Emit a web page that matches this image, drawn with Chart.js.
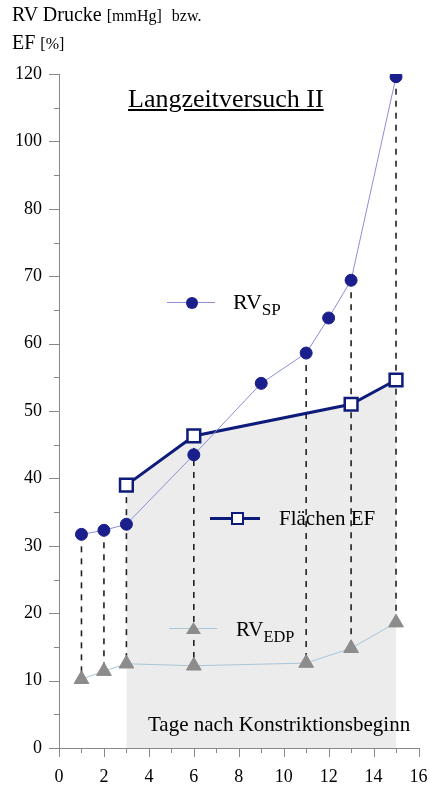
<!DOCTYPE html>
<html><head><meta charset="utf-8">
<script src="https://cdn.jsdelivr.net/npm/chart.js@4"></script>
<style>
body{margin:0;background:#fff;}
#wrap{position:relative;width:430px;height:787px;font-family:"Liberation Serif","Times New Roman",serif;color:#000;}
.t{position:absolute;white-space:nowrap;line-height:1;}
.sm{font-size:16px;}
sub{font-size:0.78em;vertical-align:-0.35em;}
.ln{position:absolute;height:0;}
</style></head>
<body><div id="wrap">
<canvas id="c" width="430" height="787"></canvas>
<div class="t" style="left:12px;top:4px;font-size:20px;">RV Drucke <span class="sm">[mmHg]</span>&nbsp; <span class="sm">bzw.</span></div>
<div class="t" style="left:12px;top:32px;font-size:20px;">EF <span class="sm">[%]</span></div>
<div class="t" style="left:128px;top:86px;font-size:26px;text-decoration:underline;">Langzeitversuch II</div>
<div class="ln" style="left:167px;top:302px;width:48px;border-top:1px solid #8e8ed8;"></div>
<div style="position:absolute;left:186px;top:297px;width:12px;height:12px;border-radius:50%;background:#1a1f8c;"></div>
<div class="t" style="left:233px;top:291px;font-size:22px;">RV<sub>SP</sub></div>
<div class="ln" style="left:210px;top:517px;width:50px;border-top:3px solid #0d1b7a;"></div>
<div style="position:absolute;left:231px;top:512px;width:9px;height:9px;border:2.5px solid #0d1b7a;background:#fff;"></div>
<div class="t" style="left:279px;top:508px;font-size:21px;">Flächen EF</div>
<div class="ln" style="left:169px;top:628px;width:48px;border-top:1px solid #a9c6d9;"></div>
<div style="position:absolute;left:186px;top:622px;width:15px;height:12px;background:#8c8c8c;clip-path:polygon(50% 0,100% 100%,0 100%);"></div>
<div class="t" style="left:236px;top:619px;font-size:21px;">RV<sub>EDP</sub></div>
<div class="t" style="left:148px;top:714px;font-size:21px;">Tage nach Konstriktionsbeginn</div>
</div>
<script>
// ---- data ----
const spDays = [1, 2, 3, 6, 9, 11, 12, 13, 15];
const spValues = [31.7, 32.3, 33.2, 43.5, 54.1, 58.6, 63.8, 69.4, 119.2];
const efDays = [3, 6, 13, 15];
const efValues = [39.0, 46.3, 51.0, 54.6];
const edpDays = [1, 2, 3, 6, 11, 13, 15];
const edpValues = [10.2, 11.4, 12.5, 12.2, 12.6, 14.8, 18.6];
const xTicks = [0, 2, 4, 6, 8, 10, 12, 14, 16];
const yTickLabels = [0, 10, 20, 30, 40, 50, 60, 70, 80, 100, 120];

// axis break: linear up to 80, half scale above
function yPos(v){ return v <= 80 ? v : 80 + (v - 80) / 2; }
function yVal(p){ return p <= 80 ? p : 80 + (p - 80) * 2; }
function pts(xs, vs){ return xs.map((x, i) => ({x: x, y: yPos(vs[i])})); }

const drops = edpDays.map((d, i) => {
  const cands = [];
  const si = spDays.indexOf(d); if (si >= 0) cands.push(spValues[si]);
  const ei = efDays.indexOf(d); if (ei >= 0) cands.push(efValues[ei]);
  const top = Math.max.apply(null, cands);
  return {
    type: 'line', data: [{x: d, y: yPos(top)}, {x: d, y: yPos(edpValues[i])}],
    borderColor: '#222', borderWidth: 1.6, borderDash: [6, 6], pointRadius: 0, fill: false, order: 5
  };
});

const tickPlugin = {
  id: 'ticks',
  afterDraw(chart){
    const ctx = chart.ctx, y = chart.scales.y, x = chart.scales.x, a = chart.chartArea;
    ctx.save(); ctx.strokeStyle = '#888'; ctx.lineWidth = 1;
    y.ticks.forEach(t => {
      const py = Math.round(y.getPixelForValue(t.value)) + 0.5;
      const len = (t.value % 10 === 0) ? 10 : 5;
      ctx.beginPath(); ctx.moveTo(a.left - len, py); ctx.lineTo(a.left, py); ctx.stroke();
    });
    x.ticks.forEach(t => {
      const px = Math.round(x.getPixelForValue(t.value)) + 0.5;
      const len = (t.value % 2 === 0) ? 9 : 5;
      ctx.beginPath(); ctx.moveTo(px, a.bottom); ctx.lineTo(px, a.bottom + len); ctx.stroke();
    });
    ctx.restore();
  }
};

new Chart(document.getElementById('c'), {
  type: 'line',
  data: {
    datasets: [
      {label: 'Flächen EF', data: pts(efDays, efValues), borderColor: '#0d1b7a', borderWidth: 3,
       backgroundColor: '#ececec', fill: 'origin', pointStyle: 'rect', pointRadius: 9, pointBorderWidth: 2.5,
       pointBackgroundColor: '#fff', pointBorderColor: '#0d1b7a', order: 2},
      {label: 'RV_SP', data: pts(spDays, spValues), borderColor: '#8e8ed8', borderWidth: 1,
       pointRadius: 6, pointBackgroundColor: '#1a1f8c', pointBorderColor: '#1a1f8c', fill: false, order: 1},
      {label: 'RV_EDP', data: pts(edpDays, edpValues), borderColor: '#a9c6d9', borderWidth: 1,
       pointStyle: 'triangle', pointRadius: 8.5, pointBackgroundColor: '#8c8c8c', pointBorderColor: '#8c8c8c',
       pointBorderWidth: 1, fill: false, order: 3}
    ].concat(drops)
  },
  options: {
    responsive: false, animation: false, devicePixelRatio: 1,
    layout: {padding: {top: 74, right: 11, left: 0, bottom: 0}},
    plugins: {legend: {display: false}, tooltip: {enabled: false}, filler: {drawTime: 'beforeDatasetsDraw'}},
    scales: {
      x: {type: 'linear', min: 0, max: 16,
          afterFit(s){ s.height = 39; s.paddingLeft = 0; s.paddingRight = 0; },
          afterBuildTicks(s){ s.ticks = []; for (let v = 0; v <= 16; v++) s.ticks.push({value: v}); },
          grid: {display: false, drawTicks: false},
          border: {display: true, color: '#888', width: 1},
          ticks: {autoSkip: false, maxRotation: 0, padding: 18, color: '#000',
                  font: {family: 'Liberation Serif', size: 18},
                  callback: v => xTicks.indexOf(v) >= 0 ? String(v) : ''}},
      y: {type: 'linear', min: 0, max: 100,
          afterFit(s){ s.width = 59; s.paddingTop = 0; s.paddingBottom = 0; },
          afterBuildTicks(s){ s.ticks = []; for (let v = 0; v <= 100; v += 5) s.ticks.push({value: v}); },
          grid: {display: false, drawTicks: false},
          border: {display: true, color: '#888', width: 1},
          ticks: {autoSkip: false, padding: 17, color: '#000',
                  font: {family: 'Liberation Serif', size: 18},
                  callback: v => { if (v % 10 !== 0) return ''; const r = yVal(v); return yTickLabels.indexOf(r) >= 0 ? String(r) : ''; }}}
    }
  },
  plugins: [tickPlugin]
});
</script>
</body></html>
